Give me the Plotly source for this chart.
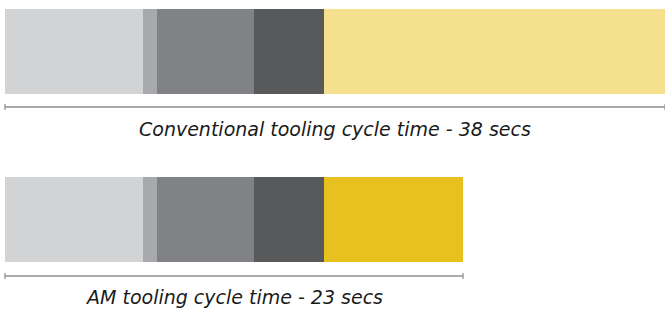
import plotly.graph_objects as go

# Data (seconds)
cycles = ["Conventional tooling", "AM tooling"]
labels = ["Conventional tooling cycle time - 38 secs", "AM tooling cycle time - 23 secs"]
phase_names = ["Phase 1", "Phase 2", "Phase 3", "Phase 4", "Cooling"]
phase1 = [7.95, 7.95]
phase2 = [0.81, 0.81]
phase3 = [5.58, 5.58]
phase4 = [4.03, 4.03]
cooling = [19.63, 8.0]

# Style
gray_colors = ["#D1D3D4", "#A7A9AC", "#808285", "#58595B"]
cool_colors = ["#F5E08E", "#E8C11E"]
bar_centers = [51.5, 219.5]   # y positions (pixel-like axis)
bar_height = 85
line_y = [107, 276]
text_y = [129, 297]

fig = go.Figure()
series = [phase1, phase2, phase3, phase4]
for name, vals, col in zip(phase_names[:4], series, gray_colors):
    fig.add_trace(go.Bar(x=vals, y=bar_centers, orientation="h", width=bar_height,
                         marker=dict(color=col, line=dict(width=0)), name=name,
                         hoverinfo="x+name"))
fig.add_trace(go.Bar(x=cooling, y=bar_centers, orientation="h", width=bar_height,
                     marker=dict(color=cool_colors, line=dict(width=0)), name=phase_names[4],
                     hoverinfo="x+name"))

shapes = []
annotations = []
for i in range(len(cycles)):
    total = phase1[i] + phase2[i] + phase3[i] + phase4[i] + cooling[i]
    ly = line_y[i]
    lc = "#8C8C8C"
    shapes.append(dict(type="line", xref="x", yref="y", x0=0, x1=total, y0=ly, y1=ly,
                       line=dict(color=lc, width=1.5)))
    for xx in (0, total):
        shapes.append(dict(type="line", xref="x", yref="y", x0=xx, x1=xx, y0=ly - 3, y1=ly + 3,
                           line=dict(color=lc, width=1.2)))
    annotations.append(dict(x=total / 2, y=text_y[i], xref="x", yref="y", text=labels[i],
                            showarrow=False, xanchor="center", yanchor="middle",
                            font=dict(family="DejaVu Sans", size=19, color="#1a1a1a", style="italic")))

fig.update_layout(
    barmode="stack",
    width=665, height=311,
    margin=dict(l=0, r=0, t=0, b=0),
    paper_bgcolor="white", plot_bgcolor="white",
    showlegend=False,
    bargap=0,
    xaxis=dict(range=[-0.288, 38.0], visible=False, fixedrange=True),
    yaxis=dict(range=[311, 0], visible=False, fixedrange=True),
    shapes=shapes, annotations=annotations,
)

fig.write_html("out.html", config={"displayModeBar": False},
               post_script="document.body.style.margin='0';document.body.style.overflow='hidden';")
